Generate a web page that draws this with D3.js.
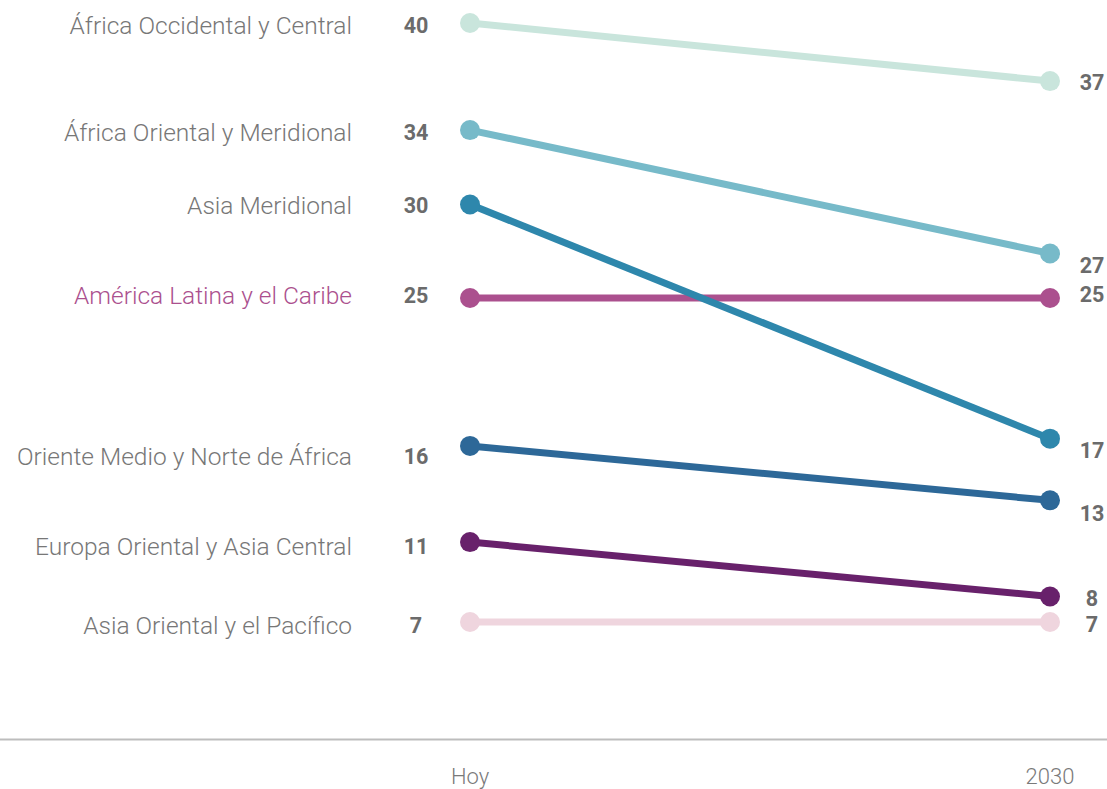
<!DOCTYPE html>
<html>
<head>
<meta charset="utf-8">
<script src="https://cdn.jsdelivr.net/npm/d3@7"></script>
<style>
  html, body { margin: 0; padding: 0; background: #ffffff; }
  svg { display: block; }
</style>
</head>
<body>
<svg id="chart" width="1107" height="789"></svg>
<script>
// ---------------- DATA ----------------
const regions = [
  "África Occidental y Central",
  "África Oriental y Meridional",
  "Asia Meridional",
  "América Latina y el Caribe",
  "Oriente Medio y Norte de África",
  "Europa Oriental y Asia Central",
  "Asia Oriental y el Pacífico"
];
const periods = ["Hoy", "2030"];
const valuesHoy  = [40, 34.1, 30, 24.85, 16.7, 11.4, 7];
const values2030 = [36.8, 27.3, 17.1, 24.85, 13.7, 8.4, 7];
const labelsHoy  = ["40", "34", "30", "25", "16", "11", "7"];
const labels2030 = ["37", "27", "17", "25", "13", "8", "7"];
const colors = ["#c9e5dc", "#77bac9", "#2e87ac", "#ab508e", "#2d6898", "#68216b", "#efd5de"];
const highlighted = ["América Latina y el Caribe"];

// ---------------- LAYOUT ----------------
const W = 1107, H = 789;
const nudgeHoy  = [2.5, 1.7, 0.7, -3, 10, 4, 3];
const nudge2030 = [1, 11.5, 12, -4, 13, 2, 2.5];

const svg = d3.select("#chart");

const x = d3.scalePoint().domain(periods).range([470, 1050]);
const y = d3.scaleLinear().domain([0, 40]).range([749, 23]);

const rows = regions.map((r, i) => ({
  region: r, v0: valuesHoy[i], v1: values2030[i],
  l0: labelsHoy[i], l1: labels2030[i], color: colors[i],
  n0: nudgeHoy[i], n1: nudge2030[i]
}));

// bottom axis line
svg.append("line")
  .attr("x1", 0).attr("x2", W)
  .attr("y1", 739.5).attr("y2", 739.5)
  .attr("stroke", "#bdbdbd").attr("stroke-width", 2);

// period labels
svg.selectAll("text.period").data(periods).enter().append("text")
  .attr("class", "period")
  .attr("x", d => x(d)).attr("y", 784)
  .attr("text-anchor", "middle")
  .attr("font-family", "Roboto, 'Liberation Sans', sans-serif")
  .attr("font-weight", 300)
  .attr("font-size", 22)
  .attr("fill", "#7a7a7a")
  .text(d => d);

// draw order: put Asia Meridional above América Latina
const drawOrder = [0, 1, 3, 2, 4, 5, 6].map(i => rows[i]);

const g = svg.append("g");
const line = d3.line().x(d => d[0]).y(d => d[1]);

g.selectAll("path.slope").data(drawOrder).enter().append("path")
  .attr("class", "slope")
  .attr("d", d => line([[x(periods[0]), y(d.v0)], [x(periods[1]), y(d.v1)]]))
  .attr("stroke", d => d.color)
  .attr("stroke-width", 7)
  .attr("fill", "none");

g.selectAll("circle.d0").data(drawOrder).enter().append("circle")
  .attr("cx", x(periods[0])).attr("cy", d => y(d.v0))
  .attr("r", 10).attr("fill", d => d.color);
g.selectAll("circle.d1").data(drawOrder).enter().append("circle")
  .attr("cx", x(periods[1])).attr("cy", d => y(d.v1))
  .attr("r", 10).attr("fill", d => d.color);

// category labels
svg.selectAll("text.cat").data(rows).enter().append("text")
  .attr("class", "cat")
  .attr("x", 352)
  .attr("y", d => y(d.v0) + d.n0)
  .attr("dy", "0.36em")
  .attr("text-anchor", "end")
  .attr("font-family", "Roboto, 'Liberation Sans', sans-serif")
  .attr("font-weight", 300)
  .attr("font-size", 24.5)
  .attr("fill", d => highlighted.includes(d.region) ? "#ab508e" : "#777777")
  .text(d => d.region);

// value labels left
svg.selectAll("text.v0").data(rows).enter().append("text")
  .attr("x", 416)
  .attr("y", d => y(d.v0) + d.n0)
  .attr("dy", "0.36em")
  .attr("text-anchor", "middle")
  .attr("font-family", "Roboto, 'Liberation Sans', sans-serif")
  .attr("font-weight", 700)
  .attr("font-size", 21.5)
  .attr("fill", "#6b6b6b")
  .text(d => d.l0);

// value labels right
svg.selectAll("text.v1").data(rows).enter().append("text")
  .attr("x", 1092)
  .attr("y", d => y(d.v1) + d.n1)
  .attr("dy", "0.36em")
  .attr("text-anchor", "middle")
  .attr("font-family", "Roboto, 'Liberation Sans', sans-serif")
  .attr("font-weight", 700)
  .attr("font-size", 21.5)
  .attr("fill", "#6b6b6b")
  .text(d => d.l1);
</script>
</body>
</html>
